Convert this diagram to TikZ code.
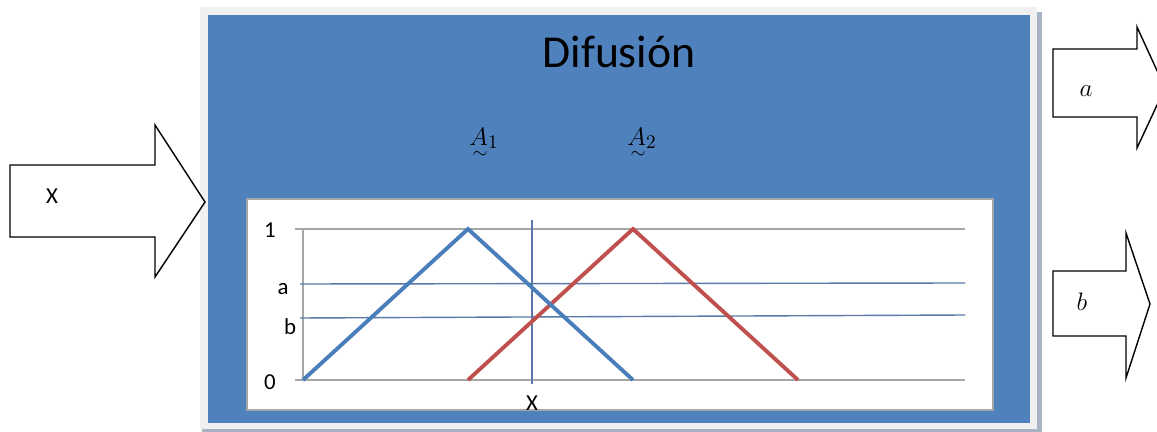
\documentclass[tikz,border=0pt]{standalone}
\usepackage{fontspec}
\setmainfont{Carlito}
\definecolor{panelblue}{HTML}{4F81BD}
\definecolor{framegray}{HTML}{F0F0F0}
\definecolor{shadowgray}{HTML}{A7B2C2}
\definecolor{triblue}{HTML}{4A7EBB}
\definecolor{trired}{HTML}{C0504D}
\definecolor{levelblue}{HTML}{5A78AA}
\definecolor{gridgray}{HTML}{A6A6A6}
\newcommand{\fuzzyset}[1]{$\rlap{\hspace{0.12em}\raisebox{-1.05ex}{$\scriptstyle\sim$}}A_{#1}$}
\begin{document}
\begin{tikzpicture}[x=0.02cm,y=-0.02cm,
    bigarrow/.style={draw=black,fill=white,line width=0.8pt,line join=miter},
    gridline/.style={draw=gridgray,line width=1.1pt},
    levelline/.style={draw=levelblue,line width=0.8pt},
    member/.style={line width=2.2pt,line join=miter},
    ticklbl/.style={font=\fontsize{13}{15}\selectfont,inner sep=0pt}]
    \useasboundingbox (0,0) rectangle (1157,432);
    \clip (0,0) rectangle (1157,432);
    % panel with its frame
    \fill[shadowgray] (1037,12) rectangle (1042,432);
    \fill[shadowgray] (202,429) rectangle (1042,432);
    \fill[framegray] (200,7) rectangle (1037,429);
    \fill[panelblue] (208,15) rectangle (1030,423);
    \node[font=\fontsize{26}{30}\selectfont,anchor=base] (title) at (619,68) {Difusión};
    \node[font=\fontsize{15}{18}\selectfont] (setA) at (484,143) {\fuzzyset{1}};
    \node[font=\fontsize{15}{18}\selectfont] (setB) at (642,143) {\fuzzyset{2}};
    % membership plot
    \filldraw[fill=white,draw=gridgray,line width=1.2pt] (247,199) rectangle (993,410);
    \draw[gridline] (295,229)--(965,229);
    \draw[gridline] (295,380)--(965,380);
    \draw[gridline] (303,229)--(303,380);
    \draw[levelline] (300,284)--(965,283);
    \draw[levelline] (300,318)--(965,315);
    \draw[levelline] (532,220)--(532,384);
    \draw[member,trired] (468,380)--(633,229)--(798,380);
    \draw[member,triblue] (303,380)--(468,229)--(633,380);
    \node[ticklbl] (one) at (270,230) {1};
    \node[ticklbl] (lvla) at (283,289) {a};
    \node[ticklbl] (lvlb) at (290,327) {b};
    \node[ticklbl] (zero) at (270,382) {0};
    \node[ticklbl] (xval) at (532,403) {X};
    % input and output arrows
    \draw[bigarrow] (10,165)--(155,165)--(155,125)--(205,202)--(155,277)--(155,237)--(10,237)--cycle;
    \node[ticklbl] (xin) at (52,196) {X};
    \draw[bigarrow] (1053,49)--(1137,49)--(1137,27)--(1165,88)--(1137,148)--(1137,117)--(1053,117)--cycle;
    \node[font=\fontsize{15}{18}\selectfont] (outa) at (1086,91) {$a$};
    \draw[bigarrow] (1053,271)--(1126,271)--(1126,233)--(1150,304)--(1126,378)--(1126,336)--(1053,336)--cycle;
    \node[font=\fontsize{15}{18}\selectfont] (outb) at (1082,302) {$b$};
\end{tikzpicture}
\end{document}
